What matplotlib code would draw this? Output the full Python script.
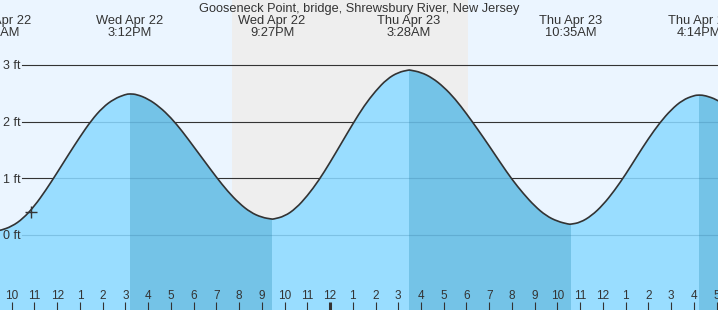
import matplotlib
matplotlib.use('Agg')
import matplotlib.pyplot as plt
import matplotlib.transforms as mtransforms
from matplotlib.path import Path
from matplotlib.patches import PathPatch
import numpy as np

# Tide heights (ft) every half hour.
# Time is in hours counted from Wed Apr 22, 00:00.
grid_times = np.arange(9.0, 41.51, 0.5)
grid_heights = [0.10, 0.08, 0.15, 0.29, 0.51, 0.79, 1.10, 1.42, 1.73, 2.02, 2.25, 2.40, 2.48,
                2.48, 2.40, 2.26, 2.07, 1.83, 1.56, 1.29, 1.02, 0.77, 0.56, 0.40, 0.31,
                0.28, 0.33, 0.47, 0.69, 0.96, 1.28, 1.62, 1.96, 2.28, 2.54, 2.75, 2.87,
                2.91, 2.87, 2.77, 2.61, 2.40, 2.14, 1.86, 1.57, 1.27, 0.98, 0.73, 0.51, 0.34, 0.24, 0.19,
                0.22, 0.34, 0.53, 0.78, 1.07, 1.39, 1.70, 1.98, 2.21, 2.38, 2.46,
                2.46, 2.39, 2.26]

# high / low tides (labels at the top)
event_times = [9.383, 15.2, 21.45, 27.467, 34.583, 40.233]
event_heights = [0.08, 2.49, 0.28, 2.91, 0.19, 2.47]
event_days = ['Wed Apr 22', 'Wed Apr 22', 'Wed Apr 22', 'Thu Apr 23', 'Thu Apr 23', 'Thu Apr 23']
event_clock = ['9:23AM', '3:12PM', '9:27PM', '3:28AM', '10:35AM', '4:14PM']

# falling tide (high -> low) gets the darker blue
high_times = [15.2, 27.467, 40.233]
low_times = [21.45, 34.583, 46.5]

night_start = 19.70   # sunset Wed
night_end = 30.07     # sunrise Thu

now_time = 10.836
now_height = 0.41

ft_levels = [0, 1, 2, 3]
ft_labels = ['0 ft', '1 ft', '2 ft', '3 ft']
hour_ticks = list(range(10, 42))
hour_labels = [str((h - 1) % 12 + 1) for h in hour_ticks]

title = 'Gooseneck Point, bridge, Shrewsbury River, New Jersey'

times = np.concatenate([grid_times, event_times])
heights = np.concatenate([grid_heights, event_heights])
order = np.argsort(times)
pts = np.column_stack([times[order], heights[order]])

# smooth path: quadratic segments through the midpoints, readings as control points
verts = [pts[0]]
codes = [Path.MOVETO]
for i in range(1, len(pts) - 1):
    verts += [pts[i], (pts[i] + pts[i + 1]) / 2]
    codes += [Path.CURVE3, Path.CURVE3]
verts.append(pts[-1])
codes.append(Path.LINETO)
line_path = Path(verts, codes)
fill_path = Path(verts + [(pts[-1, 0], -3), (pts[0, 0], -3), (0, 0)],
                 codes + [Path.LINETO, Path.LINETO, Path.CLOSEPOLY])

plt.rcParams['font.family'] = ['Liberation Sans', 'DejaVu Sans']
txt = '#333333'

fig = plt.figure(figsize=(7.18, 3.10), dpi=100)
fig.patch.set_facecolor('#EBF5FF')
ax = fig.add_axes([0, 0, 1, 1])
ax.axis('off')
ax.set_xlim(9.4855, 41.060)
ax.set_ylim(-1.3228, 4.1446)
trans = mtransforms.blended_transform_factory(ax.transData, ax.transAxes)

ax.axvspan(night_start, night_end, color='#EEEEEE', lw=0, zorder=0)

for lvl in ft_levels:
    ax.axhline(lvl, xmin=22 / 718, color=txt, lw=0.8, zorder=1)

water = PathPatch(fill_path, fc='#99DDFF', lw=0, zorder=2)
ax.add_patch(water)

for hi, lo in zip(high_times, low_times):
    span = ax.axvspan(hi, lo, color='#74C3E7', lw=0, zorder=3)
    span.set_clip_path(water)

# grid lines seen through the water
for lvl in ft_levels:
    ln = ax.axhline(lvl, xmin=22 / 718, color='#2A6E96', alpha=0.25, lw=0.8, zorder=4)
    ln.set_clip_path(water)

ax.add_patch(PathPatch(line_path, fill=False, ec=txt, lw=1.2, zorder=5))
ax.plot(now_time, now_height, marker='+', ms=8, mew=1, color=txt, zorder=6)

for lvl, lab in zip(ft_levels, ft_labels):
    ax.text(3 / 718, lvl - 0.076, lab, transform=ax.get_yaxis_transform(),
            ha='left', va='baseline', fontsize=9, color=txt)

ax.text(0.5, 0.9629, title, transform=ax.transAxes, ha='center', va='baseline',
        fontsize=9.2, color=txt)
for t, d, c in zip(event_times, event_days, event_clock):
    ax.text(t, 0.9216, d, transform=trans, ha='center', va='baseline', fontsize=9.3, color=txt)
    ax.text(t, 0.8839, c, transform=trans, ha='center', va='baseline', fontsize=9.3, color=txt)

for h, lab in zip(hour_ticks, hour_labels):
    w = 2.2 if h % 24 == 0 else 0.8
    ax.vlines(h, 0, 8 / 310, transform=trans, colors=txt, lw=w, zorder=7)
    ax.text(h, 0.0345, lab, transform=trans, ha='center', va='baseline',
            fontsize=8.5, color=txt, zorder=7)

fig.savefig('out.png', dpi=100, facecolor=fig.get_facecolor())
